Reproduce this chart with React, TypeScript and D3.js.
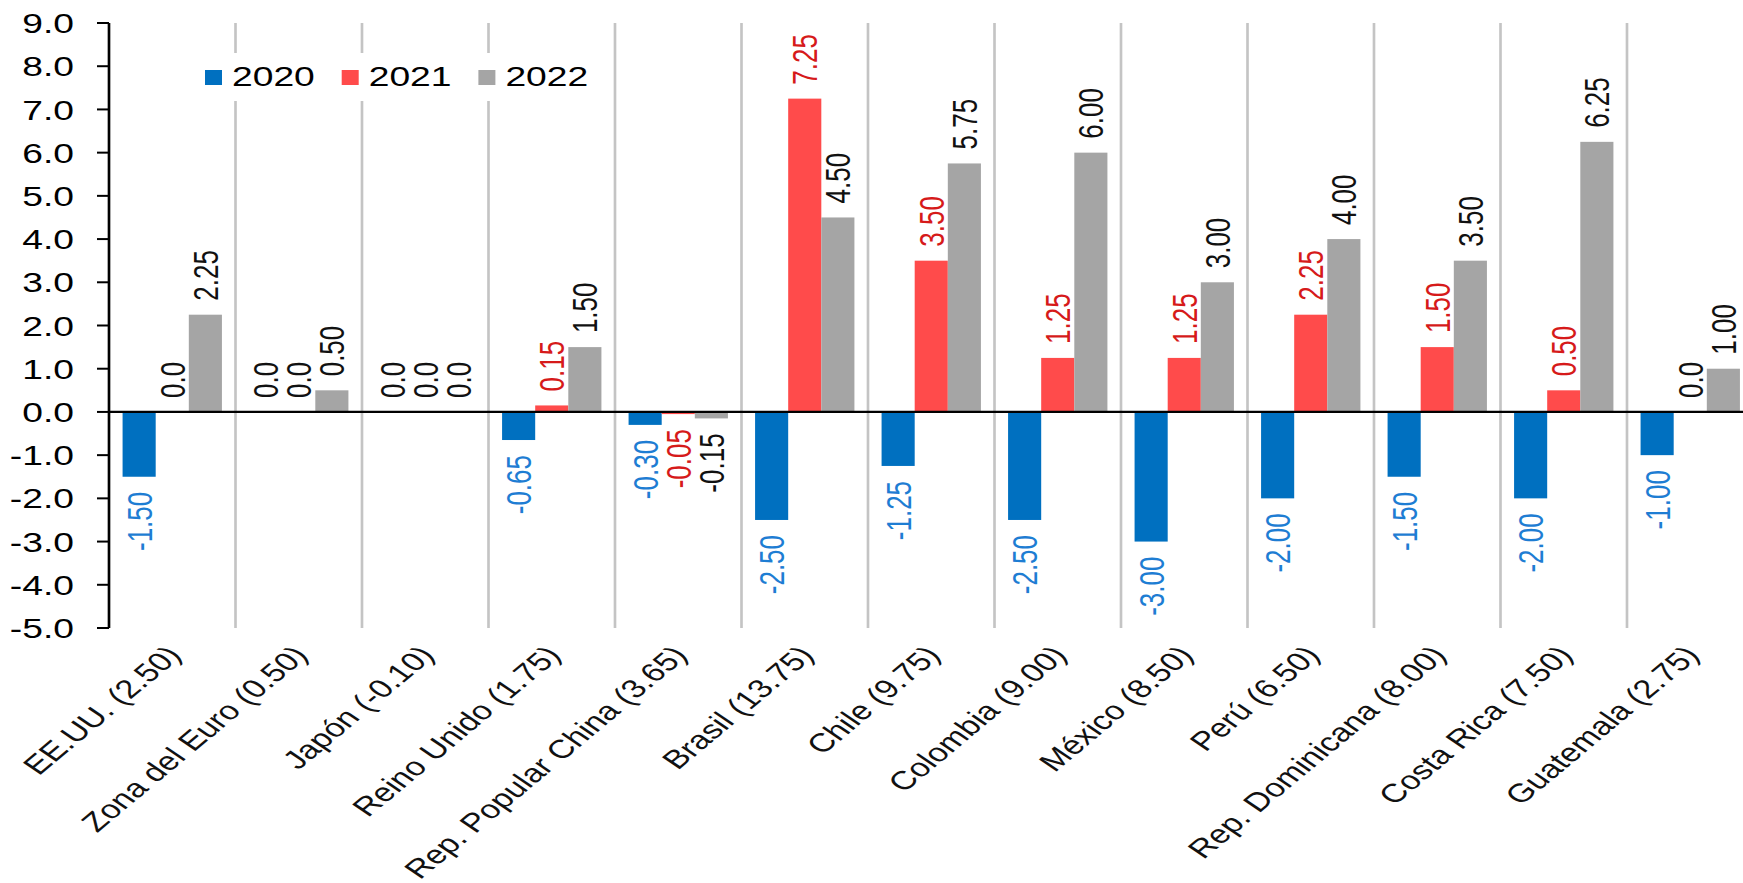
import React from "react";
import * as d3 from "d3";

const categories = [
  "EE.UU. (2.50)",
  "Zona del Euro (0.50)",
  "Japón (-0.10)",
  "Reino Unido (1.75)",
  "Rep. Popular China (3.65)",
  "Brasil (13.75)",
  "Chile (9.75)",
  "Colombia (9.00)",
  "México (8.50)",
  "Perú (6.50)",
  "Rep. Dominicana (8.00)",
  "Costa Rica (7.50)",
  "Guatemala (2.75)",
];
const seriesNames = ["2020", "2021", "2022"];
const values2020 = [-1.5, 0, 0, -0.65, -0.3, -2.5, -1.25, -2.5, -3.0, -2.0, -1.5, -2.0, -1.0];
const values2021 = [0, 0, 0, 0.15, -0.05, 7.25, 3.5, 1.25, 1.25, 2.25, 1.5, 0.5, 0];
const values2022 = [2.25, 0.5, 0, 1.5, -0.15, 4.5, 5.75, 6.0, 3.0, 4.0, 3.5, 6.25, 1.0];
const yTicks = [9, 8, 7, 6, 5, 4, 3, 2, 1, 0, -1, -2, -3, -4, -5];

const barColors = ["#0070C0", "#FF4B4B", "#A5A5A5"];
const labelColors = ["#1E7DD3", "#D61A1A", "#111111"];

const W = 1743;
const H = 883;
const SX = 1.33; // horizontal stretch of the original picture
const FONT = "'Liberation Sans', Arial, Helvetica, sans-serif";

const hyphen = (s: string) => s.replace(/\u2212/g, "-");

export default function App() {
  const seriesValues = [values2020, values2021, values2022];
  const axisX = 109 / SX;
  const catStep = 126.5 / SX;
  const x0 = d3
    .scaleBand<string>()
    .domain(categories)
    .range([axisX, axisX + catStep * categories.length])
    .paddingInner(0)
    .paddingOuter(0);
  const x1 = d3
    .scaleBand<string>()
    .domain(seriesNames)
    .range([0, x0.bandwidth()])
    .paddingInner(0)
    .paddingOuter(0.41);
  const y = d3.scaleLinear().domain([-5, 9]).range([628, 23]);
  const fmtTick = (t: number) => hyphen(d3.format(".1f")(t));
  const fmtVal = (v: number) => (v === 0 ? "0.0" : hyphen(d3.format(".2f")(v)));
  const innerRight = W / SX + 20;

  const legendXFull = [205, 341.7, 478.4];

  return (
    <svg
      width={W}
      height={H}
      style={{ position: "absolute", left: 0, top: 0, background: "#fff" }}
      fontFamily={FONT}
    >
      <rect x={0} y={0} width={W} height={H} fill="#fff" />
      <g transform={`scale(${SX},1)`}>
        {/* category separators */}
        {categories.slice(1).map((c) => (
          <line
            key={"sep" + c}
            x1={x0(c)!}
            x2={x0(c)!}
            y1={y(9)}
            y2={y(-5)}
            stroke="#C4C4C4"
            strokeWidth={2}
          />
        ))}

        {/* legend */}
        <rect x={195 / SX} y={53} width={(600 - 195) / SX} height={48} fill="#fff" />
        {seriesNames.map((s, i) => (
          <g key={"lg" + s}>
            <rect x={legendXFull[i] / SX} y={70} width={17 / SX} height={15} fill={barColors[i]} />
            <text x={(legendXFull[i] + 27) / SX} y={86.5} fontSize={28} fill="#000">
              {s}
            </text>
          </g>
        ))}

        {/* bars */}
        {categories.map((c, ci) =>
          seriesNames.map((s, si) => {
            const v = seriesValues[si][ci];
            const bx = x0(c)! + x1(s)!;
            return (
              <rect
                key={"b" + c + s}
                x={bx}
                width={x1.bandwidth()}
                y={Math.min(y(v), y(0))}
                height={Math.abs(y(v) - y(0))}
                fill={barColors[si]}
              />
            );
          })
        )}

        {/* zero line */}
        <line x1={axisX} x2={innerRight} y1={y(0)} y2={y(0)} stroke="#000" strokeWidth={2.2} />

        {/* y axis */}
        <line x1={axisX} x2={axisX} y1={y(9)} y2={y(-5)} stroke="#000" strokeWidth={2} />
        {yTicks.map((t) => (
          <g key={"t" + t}>
            <line x1={axisX - 12 / SX} x2={axisX} y1={y(t)} y2={y(t)} stroke="#000" strokeWidth={2} />
            <text
              x={axisX - 35 / SX}
              y={y(t)}
              dy="0.36em"
              textAnchor="end"
              fontSize={28}
              fill="#000"
            >
              {fmtTick(t)}
            </text>
          </g>
        ))}

        {/* value labels */}
        {categories.map((c, ci) =>
          seriesNames.map((s, si) => {
            const v = seriesValues[si][ci];
            const cx = x0(c)! + x1(s)! + x1.bandwidth() / 2;
            const ly = v < 0 ? y(v) + 15 : y(v) - 14;
            return (
              <text
                key={"v" + c + s}
                transform={`translate(${cx},${ly}) rotate(-90)`}
                dy="0.36em"
                textAnchor={v < 0 ? "end" : "start"}
                fontSize={26}
                fill={v === 0 ? "#111111" : labelColors[si]}
              >
                {fmtVal(v)}
              </text>
            );
          })
        )}

        {/* category labels */}
        {categories.map((c) => {
          const cx = x0(c)! + x0.bandwidth() / 2;
          return (
            <text
              key={"c" + c}
              transform={`translate(${cx + 10.5 / SX},${656}) rotate(-48)`}
              textAnchor="end"
              fontSize={26}
              fill="#111"
            >
              {c}
            </text>
          );
        })}
      </g>
    </svg>
  );
}
